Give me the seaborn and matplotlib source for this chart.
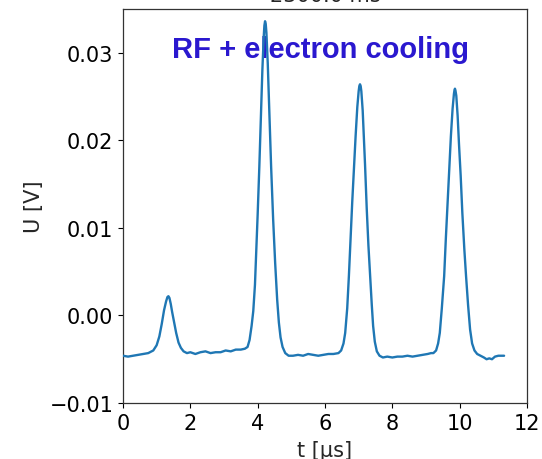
import matplotlib
matplotlib.use("Agg")
import matplotlib.pyplot as plt
import seaborn as sns
import pandas as pd

# Time axis in microseconds and measured pickup voltage in volts
t_us = [
    0.00, 0.15, 0.30, 0.45, 0.60, 0.75, 0.90, 1.00, 1.08, 1.15, 1.22, 1.28,
    1.32, 1.35, 1.38, 1.42, 1.46, 1.52, 1.58, 1.65, 1.72, 1.80, 1.90, 2.00,
    2.15, 2.30, 2.45, 2.60, 2.75, 2.90, 3.05, 3.20, 3.35, 3.50, 3.62, 3.70,
    3.76, 3.82, 3.87, 3.92, 3.96, 4.00, 4.05, 4.10, 4.14, 4.18, 4.20, 4.22,
    4.24, 4.26, 4.30, 4.35, 4.40, 4.46, 4.52, 4.58, 4.63, 4.68, 4.74, 4.82,
    4.92, 5.05, 5.20, 5.35, 5.50, 5.65, 5.80, 5.95, 6.10, 6.25, 6.40, 6.48,
    6.55, 6.60, 6.66, 6.71, 6.76, 6.81, 6.86, 6.91, 6.96, 7.00, 7.02, 7.04,
    7.06, 7.08, 7.12, 7.16, 7.19, 7.24, 7.29, 7.34, 7.39, 7.43, 7.48, 7.54,
    7.62, 7.72, 7.85, 8.00, 8.15, 8.30, 8.45, 8.60, 8.75, 8.90, 9.05, 9.15,
    9.22, 9.30, 9.36, 9.41, 9.47, 9.54, 9.59, 9.64, 9.69, 9.74, 9.79, 9.83,
    9.845, 9.86, 9.875, 9.90, 9.94, 9.98, 10.03, 10.08, 10.14, 10.19, 10.25,
    10.31, 10.37, 10.44, 10.52, 10.62, 10.72, 10.80, 10.88, 10.96, 11.05,
    11.15, 11.25, 11.32,
]
u_volt = [
    -0.0046, -0.0047, -0.0046, -0.0045, -0.0044, -0.0043, -0.0040, -0.0034,
    -0.0024, -0.0010, 0.0006, 0.0016, 0.0021, 0.0022, 0.0020, 0.0013,
    0.0004, -0.0008, -0.0020, -0.0031, -0.0037, -0.0041, -0.0043, -0.0042,
    -0.0044, -0.0042, -0.0041, -0.0043, -0.0042, -0.0042, -0.0040, -0.0041,
    -0.0039, -0.0039, -0.0038, -0.0036, -0.0028, -0.0012, 0.0005, 0.0035,
    0.0075, 0.0115, 0.0170, 0.0229, 0.0280, 0.0318, 0.0331, 0.0336,
    0.0333, 0.0323, 0.0288, 0.0229, 0.0170, 0.0110, 0.0060, 0.0018,
    -0.0008, -0.0025, -0.0036, -0.0043, -0.0046, -0.0046, -0.0045, -0.0046,
    -0.0044, -0.0045, -0.0046, -0.0045, -0.0044, -0.0044, -0.0043, -0.0040,
    -0.0032, -0.0020, 0.0008, 0.0045, 0.0088, 0.0130, 0.0168, 0.0205,
    0.0238, 0.0256, 0.0262, 0.0264, 0.0262, 0.0256, 0.0234, 0.0200,
    0.0172, 0.0122, 0.0080, 0.0045, 0.0012, -0.0012, -0.0030, -0.0041,
    -0.0046, -0.0048, -0.0047, -0.0048, -0.0047, -0.0047, -0.0046, -0.0047,
    -0.0046, -0.0045, -0.0044, -0.0043, -0.0043, -0.0040, -0.0032, -0.0020,
    0.0008, 0.0045, 0.0088, 0.0128, 0.0166, 0.0205, 0.0236, 0.0253,
    0.0257, 0.0259, 0.0257, 0.0251, 0.0228, 0.0196, 0.0160, 0.0117,
    0.0075, 0.0045, 0.0012, -0.0016, -0.0032, -0.0040, -0.0044, -0.0046,
    -0.0048, -0.0050, -0.0049, -0.0050, -0.0047, -0.0046, -0.0046, -0.0046,
]

x_ticks = [0, 2, 4, 6, 8, 10, 12]
y_ticks = [-0.01, 0.00, 0.01, 0.02, 0.03]
title_text = "2300.0 ms"
label_text = "RF + electron cooling"

sns.set_style("ticks")
plt.rcParams["font.family"] = ["DejaVu Sans"]

df = pd.DataFrame({"t": t_us, "U": u_volt})

fig = plt.figure(figsize=(5.42, 4.60), dpi=100)
ax = fig.add_axes([0.2269, 0.1217, 0.7454, 0.8566])

sns.lineplot(data=df, x="t", y="U", ax=ax, color="#1f77b4", linewidth=1.7,
             estimator=None, sort=False, zorder=3)

ax.set_xlim(0, 12)
ax.set_ylim(-0.01, 0.035)
ax.set_xticks(x_ticks)
ax.set_xticklabels([str(v) for v in x_ticks])
ax.set_yticks(y_ticks)
ax.set_yticklabels([f"{v:.2f}".replace("-", "\u2212") for v in y_ticks])
ax.tick_params(axis="both", labelsize=15, direction="out", length=3.5,
               width=0.8, colors="black")
for side in ["top", "right", "left", "bottom"]:
    ax.spines[side].set_visible(True)
    ax.spines[side].set_color("#333333")
    ax.spines[side].set_linewidth(0.9)

ax.set_xlabel("t [µs]", fontsize=15, labelpad=5)
ax.set_ylabel("U [V]", fontsize=15)
ax.set_title(title_text, fontsize=15)

ax.text(1.45, 0.0304, label_text, fontsize=21, fontweight="bold",
        family="Liberation Sans", color="#2a18cf", ha="left", va="center",
        zorder=1)

fig.savefig("out.png", dpi=100)
